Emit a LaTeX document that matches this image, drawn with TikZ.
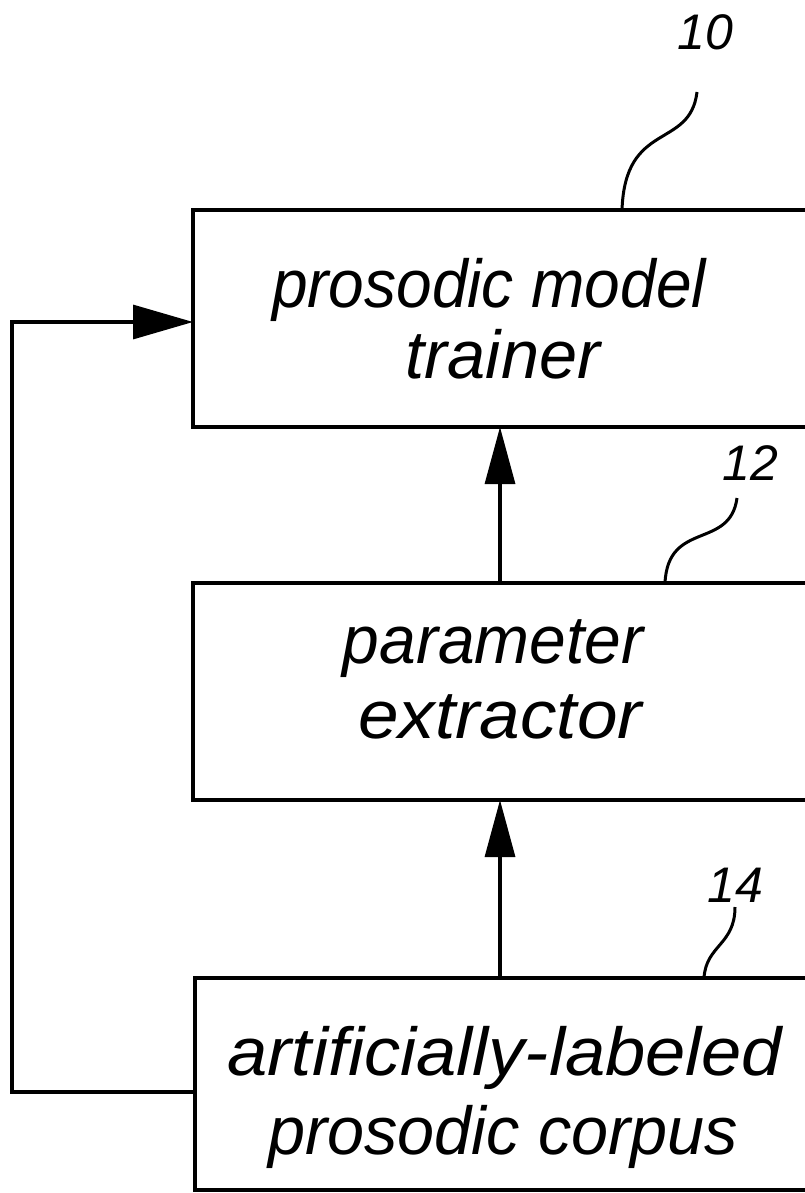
\documentclass[tikz,border=0pt]{standalone}
\usepackage{graphicx}
\usepackage{fontspec}
\setmainfont{Liberation Sans}
\usetikzlibrary{arrows.meta}
\begin{document}
\begin{tikzpicture}[x=1pt,y=-1pt,
  blk/.style={draw, line width=3.5pt, minimum width=700pt, inner sep=0pt, outer sep=0pt, anchor=north west},
  arr/.style={line width=3.2pt, -{Triangle[length=57pt,width=30pt]}},
  farr/.style={line width=3.2pt, -{Triangle[length=60pt,width=34pt]}},
  lead/.style={line width=3pt},
  lbl/.style={font=\fontsize{64}{64}\selectfont\itshape, inner sep=0pt, anchor=base},
  num/.style={font=\fontsize{50}{50}\selectfont\itshape, inner sep=0pt, anchor=base}]
\useasboundingbox (0,0) rectangle (805,1193);
\clip (0,0) rectangle (805,1193);
% boxes
\node[blk, minimum height=217pt] (b1) at (193,210) {};
\node[blk, minimum height=217pt] (b2) at (193,583) {};
\node[blk, minimum height=212pt] (b3) at (195,978) {};
% texts
\node[lbl] (t1a) at (489,307) {\scalebox{1.0}[1.06]{prosodic model}};
\node[lbl] (t1b) at (503,378) {\scalebox{1.07}[1.06]{trainer}};
\node[lbl] (t2a) at (493,663) {\scalebox{1.03}[1.06]{parameter}};
\node[lbl] (t2b) at (500,738) {\scalebox{1.14}[1.06]{extractor}};
\node[lbl] (t3a) at (505,1075) {\scalebox{1.13}[1.06]{artificially-labeled}};
\node[lbl] (t3b) at (503,1154) {\scalebox{1.04}[1.06]{prosodic corpus}};
% reference numerals
\node[num] (n10) at (705,50) {10};
\node[num] (n12) at (750,480) {12};
\node[num] (n14) at (735,902) {14};
% leaders
\coordinate (l10) at (697,92);
\coordinate (l12) at (737,498);
\coordinate (l14) at (735,907);
\coordinate (e10) at (622,210);
\coordinate (e12) at (665,583);
\coordinate (e14) at (704,978);
\draw[lead] (l10) .. controls (690,150) and (625,120) .. (b1.north -| e10);
\draw[lead] (l12) .. controls (730,550) and (668,520) .. (b2.north -| e12);
\draw[lead] (l14) .. controls (735,945) and (706,945) .. (b3.north -| e14);
% arrows
\coordinate (ax) at (500,0);
\draw[arr] (b2.north -| ax) -- (b1.south -| ax);
\draw[arr] (b3.north -| ax) -- (b2.south -| ax);
\coordinate (f1) at (12,1092);
\coordinate (f2) at (12,322);
\draw[farr] (b3.west |- f1) -- (f1) -- (f2) -- (b1.west |- f2);
\end{tikzpicture}
\end{document}
